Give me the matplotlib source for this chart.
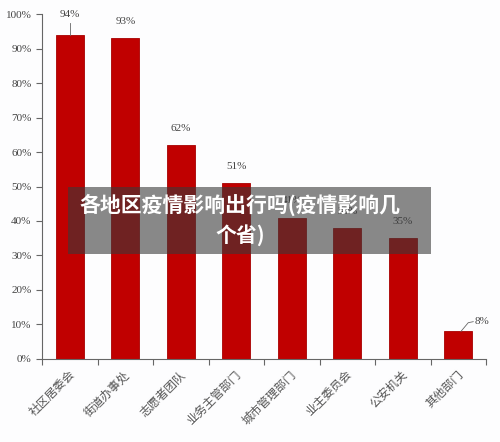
import matplotlib.pyplot as plt
from matplotlib.patches import Rectangle

plt.rcParams['font.family'] = ['Noto Sans CJK SC', 'DejaVu Sans']

categories = ["社区居委会", "街道办事处", "志愿者团队", "业务主管部门",
              "城市管理部门", "业主委员会", "公安机关", "其他部门"]
values = [94, 93, 62, 51, 41, 38, 35, 8]
value_labels = ["94%", "93%", "62%", "51%", "41%", "38%", "35%", "8%"]
yticks = [0, 10, 20, 30, 40, 50, 60, 70, 80, 90, 100]
title = "各地区疫情影响出行吗(疫情影响几\n个省)"

gray = "#666666"
fig = plt.figure(figsize=(5, 4.42), dpi=100)
fig.patch.set_facecolor("#fdfdfe")
ax = fig.add_axes([0.084, 0.188, 0.888, 0.78])
ax.set_facecolor("#fdfdfe")

x = list(range(len(categories)))
ax.bar(x, values, width=0.5, color="#c00000", edgecolor="#a80000", linewidth=0.6)

ax.set_xlim(-0.5, len(categories) - 0.5)
ax.set_ylim(0, 100)
ax.set_yticks(yticks)
ax.set_yticklabels([f"{t}%" for t in yticks], family="Liberation Serif",
                   fontsize=8, color="#444444")
ax.set_xticks([i - 0.5 for i in range(len(categories) + 1)])
ax.set_xticklabels([""] * (len(categories) + 1))
ax.tick_params(axis="both", color=gray, length=4, width=0.8)
for s in ["top", "right"]:
    ax.spines[s].set_visible(False)
for s in ["left", "bottom"]:
    ax.spines[s].set_color(gray)
    ax.spines[s].set_linewidth(0.8)

# category labels, rotated
for i, c in enumerate(categories):
    ax.text(i + 0.05, -4, c, rotation=45, rotation_mode="anchor",
            ha="right", va="center", fontsize=8.5, color="#555555",
            clip_on=False)

# value labels
for i, (v, lab) in enumerate(zip(values, value_labels)):
    if i == 0:
        ax.plot([i, i], [v, v + 3.5], color=gray, lw=0.6)
        ax.text(i, v + 4.5, lab, ha="center", va="bottom", fontsize=8,
                family="Liberation Serif", color="#444444")
    elif i == len(values) - 1:
        ax.plot([i + 0.05, i + 0.18, i + 0.27], [v, v + 2.5, v + 2.8],
                color=gray, lw=0.6)
        ax.text(i + 0.3, v + 2.8, lab, ha="left", va="center", fontsize=8,
                family="Liberation Serif", color="#444444")
    else:
        ax.text(i, v + 3.5, lab, ha="center", va="bottom", fontsize=8,
                family="Liberation Serif", color="#444444")

# title overlay box
fig.patches.append(Rectangle((0.136, 0.426), 0.726, 0.151, transform=fig.transFigure,
                             facecolor="#3a3a3a", alpha=0.6, edgecolor="none", zorder=5))
fig.text(0.48, 0.502, title, ha="center", va="center", color="white",
         fontsize=15, fontweight="bold", linespacing=1.45, zorder=6)

fig.savefig("out.png", dpi=100)
